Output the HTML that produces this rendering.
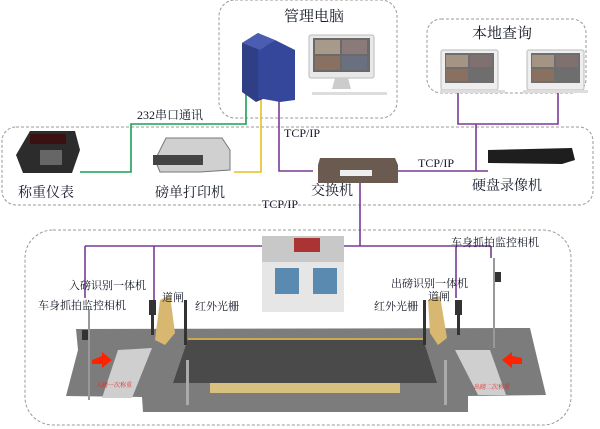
<!DOCTYPE html>
<html><head><meta charset="utf-8">
<style>
html,body{margin:0;padding:0;background:#fff;width:600px;height:429px;overflow:hidden}
svg{display:block}
text{font-family:"Liberation Serif","Noto Serif CJK SC","Noto Sans CJK SC",serif;fill:#141828}
</style></head><body>
<svg width="600" height="429" viewBox="0 0 600 429" xmlns="http://www.w3.org/2000/svg">
<g fill="none" stroke="#999" stroke-width="1" stroke-dasharray="3,2">
<rect x="219" y="0" width="178" height="118" rx="16"/>
<rect x="427" y="19" width="159" height="74" rx="14"/>
<rect x="2" y="127" width="591" height="78" rx="14"/>
<rect x="25" y="230" width="546" height="195" rx="28"/>
</g>
<polyline points="80,172 131,172 131,124 246,124 246,82" fill="none" stroke="#1aa050" stroke-width="1.6"/>
<polyline points="234,172 261,172 261,86" fill="none" stroke="#e8c020" stroke-width="1.6"/>
<g fill="none" stroke="#7a3a96" stroke-width="1.6">
<polyline points="279,99 279,171 313,171"/>
<polyline points="398,171 488,171"/>
<polyline points="458,92 458,124 558,124 558,92"/>
<line x1="476" y1="124" x2="476" y2="171"/>
<line x1="360" y1="183" x2="360" y2="246"/>
<line x1="85" y1="246" x2="491" y2="246"/>
<line x1="85" y1="246" x2="85" y2="298"/>
<line x1="154" y1="246" x2="154" y2="300"/>
<line x1="456" y1="246" x2="456" y2="298"/>
<line x1="491" y1="246" x2="491" y2="258"/>
</g>
<g>
<polygon points="242,43 258,33 270,40 270,96 256,102 242,92" fill="#2e3f86"/>
<polygon points="258,50 275,40 295,50 295,100 280,102 258,98" fill="#34479a"/>
<polygon points="242,43 258,33 275,40 260,50" fill="#4a5db0"/>
</g>
<rect x="309" y="35" width="65" height="43" rx="2" fill="#e8e8e8" stroke="#bbb"/>
<rect x="313" y="38" width="57" height="34" fill="#6a6a6a"/>
<rect x="315" y="40" width="25" height="14" fill="#a89a8a"/><rect x="342" y="40" width="25" height="14" fill="#8a7a7a"/>
<rect x="315" y="56" width="25" height="14" fill="#8a7060"/><rect x="342" y="56" width="25" height="14" fill="#6a7080"/>
<polygon points="335,78 348,78 351,89 332,89" fill="#ccc"/>
<rect x="312" y="92" width="75" height="3" fill="#ddd"/>
<g>
<rect x="441" y="50" width="57" height="40" rx="2" fill="#eee" stroke="#bbb"/>
<rect x="445" y="53" width="49" height="30" fill="#6e6e6e"/>
<rect x="446" y="55" width="22" height="12" fill="#a49484"/><rect x="470" y="55" width="22" height="12" fill="#807070"/>
<rect x="446" y="69" width="22" height="12" fill="#8a7060"/>
<rect x="440" y="90" width="65" height="3" fill="#ddd"/>
<rect x="527" y="50" width="57" height="40" rx="2" fill="#eee" stroke="#bbb"/>
<rect x="531" y="53" width="49" height="30" fill="#6e6e6e"/>
<rect x="532" y="55" width="22" height="12" fill="#a49484"/><rect x="556" y="55" width="22" height="12" fill="#807070"/>
<rect x="532" y="69" width="22" height="12" fill="#8a7060"/>
<rect x="523" y="90" width="65" height="3" fill="#ddd"/>
</g>
<polygon points="30,131 75,131 80,150 72,173 23,173 16,155" fill="#2c2c2c"/>
<rect x="30" y="134" width="36" height="10" fill="#3a1010"/>
<rect x="40" y="150" width="22" height="15" fill="#666"/>
<polygon points="166,138 222,138 230,150 230,170 200,172 160,172 155,160" fill="#d0d0d0" stroke="#777"/>
<rect x="153" y="155" width="50" height="10" fill="#444"/>
<polygon points="320,158 395,158 398,165 398,183 318,183 318,165" fill="#6a5a50"/>
<rect x="340" y="170" width="32" height="6" fill="#eee"/>
<polygon points="488,150 572,148 575,160 562,164 488,163" fill="#1e1e1e"/>
<text x="284" y="21" font-size="15">管理电脑</text>
<text x="472" y="38" font-size="15">本地查询</text>
<text x="137" y="119" font-size="12">232串口通讯</text>
<text x="284" y="137" font-size="12">TCP/IP</text>
<text x="418" y="167" font-size="12">TCP/IP</text>
<text x="262" y="208" font-size="12">TCP/IP</text>
<text x="18" y="197" font-size="14">称重仪表</text>
<text x="155" y="197" font-size="14">磅单打印机</text>
<text x="311" y="195" font-size="14">交换机</text>
<text x="472" y="190" font-size="14">硬盘录像机</text>
<polygon points="76,329 530,328 534,345 546,395 468,396 468,412 143,412 142,397 66,396 78,350" fill="#7c7c7c"/>
<polygon points="188,339 423,339 437,383 173,383" fill="#4a4a4a"/>
<line x1="188" y1="339" x2="423" y2="339" stroke="#c8a850" stroke-width="2"/>
<rect x="210" y="383" width="190" height="10" fill="#d8c080"/>
<polygon points="118,350 152,348 132,398 102,398" fill="#cfcfcf"/>
<polygon points="455,350 490,350 506,395 478,395" fill="#cfcfcf"/>
<polygon points="92,360 102,356 102,352 112,360 102,368 102,364 92,364" fill="#f20"/>
<polygon points="522,358 512,356 512,352 502,360 512,368 512,364 522,364" fill="#f20"/>
<text x="96" y="387" font-size="6" style="fill:#e22">入磅一次称重</text>
<text x="474" y="389" font-size="6" style="fill:#e22">出磅二次称重</text>
<polygon points="160,300 170,295 175,333 165,345 155,340" fill="#d8b870"/>
<polygon points="428,300 440,296 447,338 438,345 430,333" fill="#d8b870"/>
<rect x="184" y="300" width="3" height="45" fill="#333"/>
<rect x="423" y="300" width="3" height="45" fill="#333"/>
<rect x="149" y="300" width="7" height="15" fill="#333"/><rect x="151" y="315" width="3" height="20" fill="#333"/>
<rect x="455" y="300" width="7" height="15" fill="#333"/><rect x="457" y="315" width="3" height="20" fill="#333"/>
<rect x="88" y="310" width="2" height="90" fill="#999"/>
<rect x="82" y="330" width="6" height="10" fill="#333"/>
<rect x="493" y="258" width="2" height="90" fill="#999"/>
<rect x="495" y="272" width="6" height="10" fill="#333"/>
<rect x="186" y="360" width="3" height="45" fill="#aaa"/>
<rect x="444" y="360" width="3" height="45" fill="#aaa"/>
<rect x="262" y="236" width="82" height="76" fill="#e6e6e6"/>
<rect x="262" y="236" width="82" height="26" fill="#c8c8c8"/>
<rect x="294" y="238" width="26" height="14" fill="#a33"/>
<rect x="275" y="268" width="24" height="26" fill="#5a8ab0"/>
<rect x="313" y="268" width="24" height="26" fill="#5a8ab0"/>
<text x="69" y="289" font-size="11">入磅识别一体机</text>
<text x="38" y="309" font-size="11">车身抓拍监控相机</text>
<text x="162" y="301" font-size="11">道闸</text>
<text x="195" y="310" font-size="11">红外光栅</text>
<text x="391" y="287" font-size="11">出磅识别一体机</text>
<text x="428" y="300" font-size="11">道闸</text>
<text x="374" y="310" font-size="11">红外光栅</text>
<text x="451" y="246" font-size="11">车身抓拍监控相机</text>
</svg>
</body></html>
